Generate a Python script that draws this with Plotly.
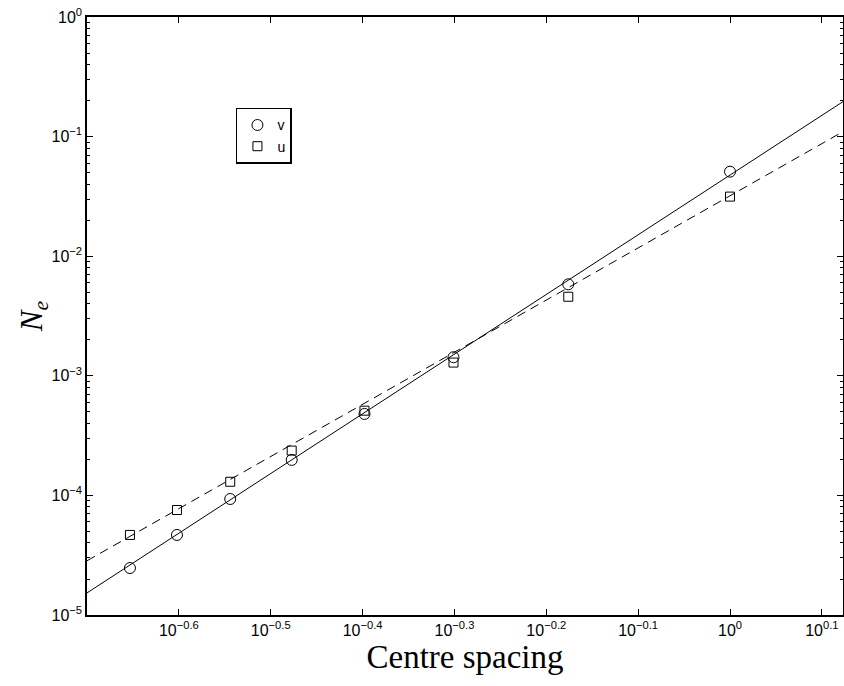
import plotly.graph_objects as go

# ---- data ----
centre_spacing = [0.2222, 0.25, 0.2857, 0.3333, 0.4, 0.5, 0.6667, 1.0]
v_vals = [2.47e-5, 4.67e-5, 9.33e-5, 1.98e-4, 4.80e-4, 1.43e-3, 5.82e-3, 0.0509]
u_vals = [4.67e-5, 7.55e-5, 1.30e-4, 2.37e-4, 5.11e-4, 1.29e-3, 4.58e-3, 0.0315]

# fitted lines (end points across the axis range)
fit_x = [10 ** -0.7, 10 ** 0.123]
v_fit = [1.53e-5, 0.196]
u_fit = [2.84e-5, 0.110]

x_tick_exps = [-0.6, -0.5, -0.4, -0.3, -0.2, -0.1, 0, 0.1]
x_tick_labels = ["10<sup>\u22120.6</sup>", "10<sup>\u22120.5</sup>", "10<sup>\u22120.4</sup>",
                 "10<sup>\u22120.3</sup>", "10<sup>\u22120.2</sup>", "10<sup>\u22120.1</sup>",
                 "10<sup>0</sup>", "10<sup>0.1</sup>"]
y_tick_exps = [-5, -4, -3, -2, -1, 0]
y_tick_labels = ["10<sup>\u22125</sup>", "10<sup>\u22124</sup>", "10<sup>\u22123</sup>",
                 "10<sup>\u22122</sup>", "10<sup>\u22121</sup>", "10<sup>0</sup>"]

x_tickvals = [10 ** e for e in x_tick_exps]
y_tickvals = [10 ** e for e in y_tick_exps]
y_minor = [m * 10 ** e for e in y_tick_exps[:-1] for m in range(2, 10)]

fig = go.Figure()
fig.add_trace(go.Scatter(x=fit_x, y=v_fit, mode="lines", showlegend=False,
                         line=dict(color="black", width=1)))
fig.add_trace(go.Scatter(x=fit_x, y=u_fit, mode="lines", showlegend=False,
                         line=dict(color="black", width=1, dash="9px,6px")))
fig.add_trace(go.Scatter(x=centre_spacing, y=v_vals, mode="markers", name="v",
                         marker=dict(symbol="circle-open", size=11, color="black",
                                     line=dict(width=1, color="black"))))
fig.add_trace(go.Scatter(x=centre_spacing, y=u_vals, mode="markers", name="u",
                         marker=dict(symbol="square-open", size=9, color="black",
                                     line=dict(width=1, color="black"))))

axis_font = dict(family="Liberation Sans, Arial, sans-serif", size=16, color="black")

fig.update_layout(
    width=844, height=686,
    margin=dict(l=87, r=1, t=17, b=71),
    plot_bgcolor="white", paper_bgcolor="white",
    showlegend=True,
    legend=dict(x=0.197, y=0.848, xanchor="left", yanchor="top",
                bgcolor="white", bordercolor="black", borderwidth=1.5,
                font=dict(family="Liberation Sans, Arial, sans-serif", size=14, color="black"),
                itemwidth=30, tracegroupgap=0, entrywidth=36, entrywidthmode="pixels"),
    xaxis=dict(type="log", range=[-0.7, 0.123], automargin=False,
               tickmode="array", tickvals=x_tickvals, ticktext=x_tick_labels,
               ticks="inside", ticklen=6, tickcolor="black", tickwidth=1,
               showline=True, linecolor="black", linewidth=1.5, mirror="allticks",
               showgrid=False, zeroline=False, tickfont=axis_font,
               title=dict(text="Centre spacing",
                          font=dict(family="Liberation Serif, DejaVu Serif, serif", size=33, color="black"),
                          standoff=2)),
    yaxis=dict(type="log", range=[-5, 0], automargin=False,
               tickmode="array", tickvals=y_tickvals, ticktext=y_tick_labels,
               ticks="inside", ticklen=6, tickcolor="black", tickwidth=1,
               minor=dict(tickmode="array", tickvals=y_minor, ticks="inside",
                          ticklen=3, tickcolor="black", tickwidth=1, showgrid=False),
               showline=True, linecolor="black", linewidth=1.5, mirror="allticks",
               showgrid=False, zeroline=False, tickfont=axis_font,
               title=dict(text="<i>N</i><sub><i>e</i></sub>",
                          font=dict(family="Liberation Serif, DejaVu Serif, serif", size=31, color="black"),
                          standoff=0)),
)

fig.write_html("out.html", config={"displayModeBar": False},
               post_script="document.body.style.margin='0';document.body.style.overflow='hidden';")
